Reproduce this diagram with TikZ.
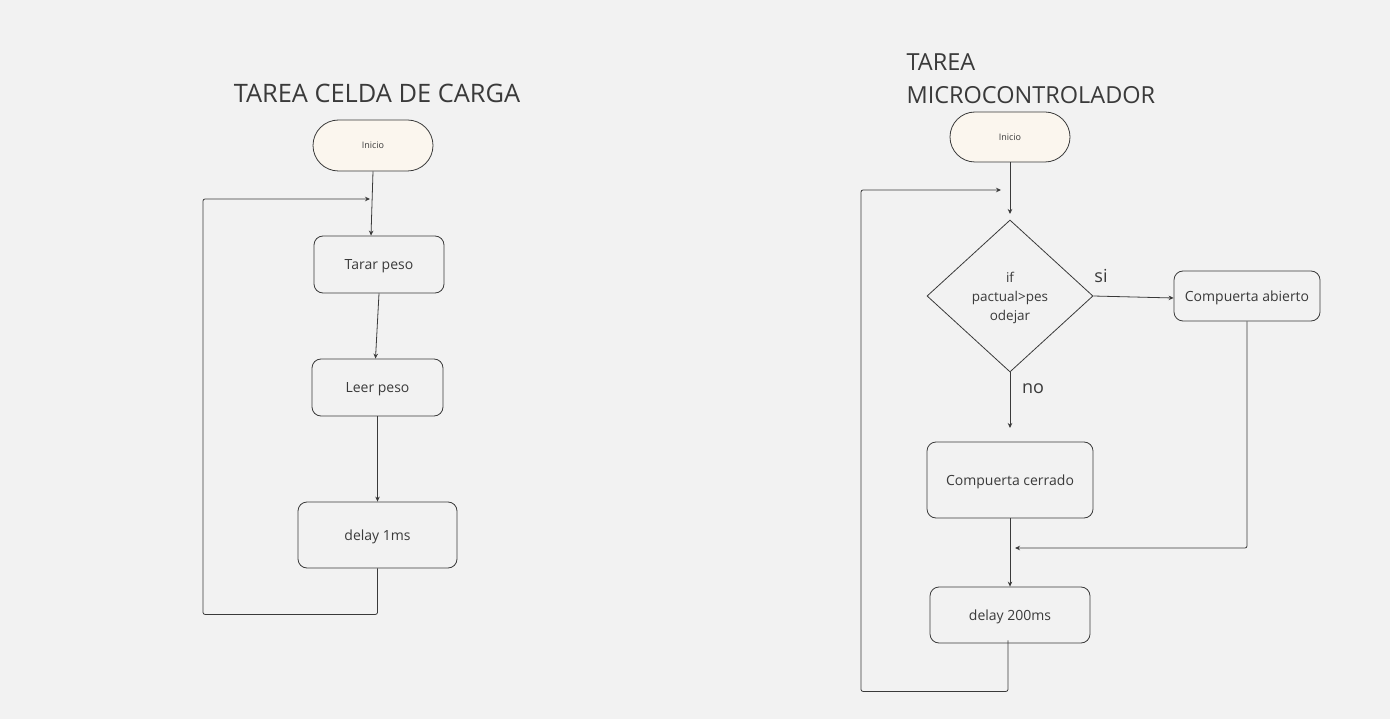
\documentclass[tikz,border=0pt]{standalone}
\usepackage{fontspec}
\setmainfont{Open Sans}
\usetikzlibrary{arrows.meta,shapes.geometric,shapes.misc}
\definecolor{bg}{HTML}{F2F2F2}
\definecolor{ink}{HTML}{3A3A3A}
\definecolor{cream}{HTML}{FBF6EE}
\tikzset{
  every node/.style={text=ink},
  box/.style={draw=ink, line width=0.8pt, rounded corners=9pt, align=center, font=\fontsize{14}{16}\selectfont, inner sep=0pt, text depth=0pt},
  term/.style={draw=ink, fill=cream, line width=0.8pt, rounded rectangle, minimum width=120pt, minimum height=51pt, inner sep=0pt, text depth=0pt, font=\fontsize{9}{11}\selectfont},
  decision/.style={draw=ink, line width=0.8pt, diamond, minimum width=166pt, minimum height=152pt, inner sep=0pt, text depth=0pt, align=center, font=\fontsize{13.5}{19}\selectfont},
  conn/.style={draw=ink, line width=0.8pt, rounded corners=2pt},
  arr/.style={conn, -{Stealth[length=5pt,width=4.5pt]}},
  title/.style={text=ink},
  lbl/.style={font=\fontsize{18}{20}\selectfont, text=ink}
}
\begin{document}
\begin{tikzpicture}[x=1pt,y=-1pt]
\fill[bg] (0,0) rectangle (1390,719);
\useasboundingbox (0,0) rectangle (1390,719);

% left flowchart
\node[title, font=\fontsize{25.4}{33}\selectfont] (t1) at (377,93) {TAREA CELDA DE CARGA};
\node[term] (ini1) at (373,145.5) {Inicio};
\node[box, minimum width=130pt, minimum height=57pt] (tarar) at (379,264.5) {Tarar peso};
\node[box, minimum width=131pt, minimum height=57pt] (leer) at (377.5,387.5) {Leer peso};
\node[box, minimum width=159pt, minimum height=66pt] (del1) at (377.5,535) {delay 1ms};
\coordinate (l1end) at (370,199);

\draw[arr] (ini1.south) -- ([xshift=-8pt]tarar.north);
\draw[arr] (tarar.south) -- ([xshift=-2pt]leer.north);
\draw[arr] (leer.south) -- (del1.north);
\draw[arr] (del1.south) -- ++(0,46) -| (203,199) -- (l1end);

% right flowchart
\node[title, font=\fontsize{23.5}{33}\selectfont, anchor=north west, align=left] (t2) at (903,50) {TAREA\\MICROCONTROLADOR};
\node[term, minimum height=50pt] (ini2) at (1010,137) {Inicio};
\node[decision] (dec) at (1010,296) {if\\pactual>pes\\odejar};
\node[box, minimum width=146pt, minimum height=50pt] (abi) at (1247,296) {Compuerta abierto};
\node[box, minimum width=166pt, minimum height=76pt] (cer) at (1010,480) {Compuerta cerrado};
\node[box, minimum width=160pt, minimum height=56pt] (del2) at (1010,615) {delay 200ms};
\node[lbl] (si) at (1101,276) {si};
\node[lbl] (no) at (1033,389) {no};
\coordinate (r1end) at (1001,190);
\coordinate (decin) at (1010,214);
\coordinate (noend) at (1010,428);
\coordinate (abiend) at (1015,548);

\draw[arr] (ini2.south) -- (decin);
\draw[arr] (dec.east) -- ([yshift=-2pt]abi.west);
\draw[arr] (dec.south) -- (noend);
\draw[arr] (cer.south) -- (del2.north);
\draw[arr] (abi.south) |- (abiend);
\draw[arr] ([xshift=-2pt,yshift=3pt]del2.south) -- ++(0,51) -| (861,190) -- (r1end);
\end{tikzpicture}
\end{document}
